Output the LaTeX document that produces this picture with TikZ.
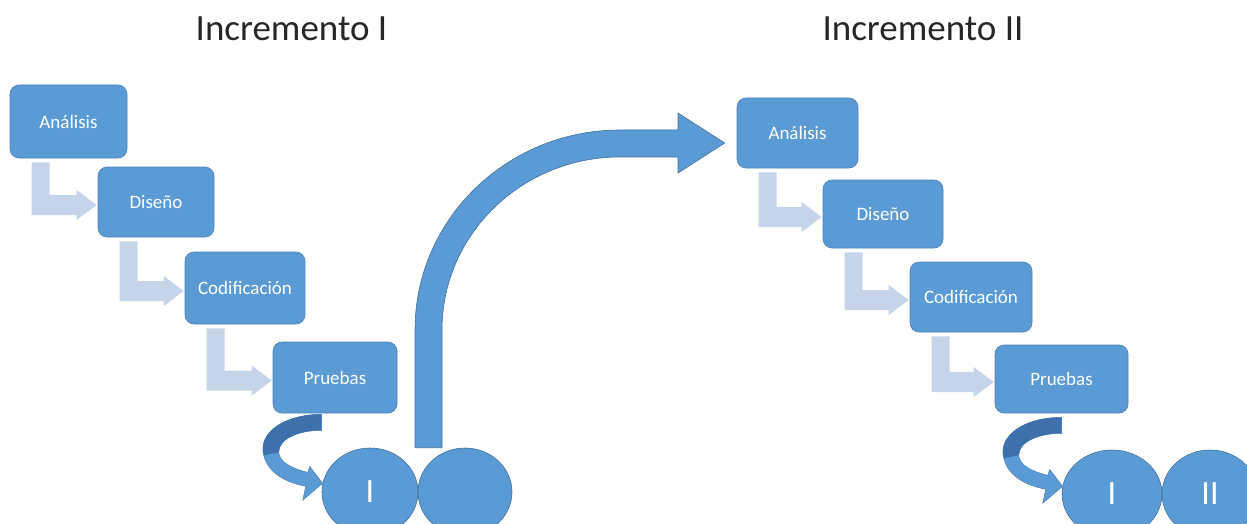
\documentclass[tikz,border=0pt]{standalone}
\usepackage{fontspec}
\setmainfont{Carlito}
\usetikzlibrary{calc,shapes.geometric}

\definecolor{boxblue}{RGB}{91,155,213}
\definecolor{edgeblue}{RGB}{65,113,156}
\definecolor{shadeblue}{RGB}{62,112,172}
\definecolor{paleblue}{RGB}{198,212,234}
\definecolor{titlegray}{RGB}{38,38,38}

\tikzset{
  phase/.style={draw=edgeblue!60!boxblue, line width=0.6pt, fill=boxblue,
    rounded corners=9pt, text=white, inner sep=0pt,
    font=\fontsize{19}{22}\selectfont},
  release/.style={ellipse, draw=edgeblue, line width=0.6pt, fill=boxblue,
    text=white, inner sep=0pt, font=\fontsize{34}{38}\selectfont},
  title/.style={anchor=base, text=titlegray, font=\fontsize{37}{42}\selectfont},
  % curved arrow leading from the last phase down to the first release
  turnarrow/.pic={
    \filldraw[fill=boxblue, draw=edgeblue!70!boxblue, line width=0.4pt]
      (0,0) .. controls (-37,0) and (-64,18) .. (-58,41)
      .. controls (-54,58) and (-37,68) .. (-16,72)
      -- (-19,86) -- (1,69) -- (-12,52) -- (-14,58)
      .. controls (-30,54) and (-42,48) .. (-43,38)
      .. controls (-43,24) and (-22,16) .. (0,16) -- cycle;
    \fill[shadeblue]
      (0,0) .. controls (-37,0) and (-64,18) .. (-58,41)
      -- (-43,38) .. controls (-43,24) and (-22,16) .. (0,16) -- cycle;
  }
}

% pale L-shaped step arrow from one phase box to the next
\newcommand\stepjoin[2]{%
  \fill[paleblue]
    ($(#1.south west)+(22,4)$) -- ($(#1.south west)+(40,4)$)
    -- ($(#1.south west |- #2.west)+(40,-7)$)
    -- ($(#2.west)+(-21,-7)$) -- ($(#2.west)+(-21,-12)$)
    -- ($(#2.west)+(-1,3)$)
    -- ($(#2.west)+(-21,18)$) -- ($(#2.west)+(-21,13)$)
    -- ($(#1.south west |- #2.west)+(22,13)$) -- cycle;}

\begin{document}
\begin{tikzpicture}[x=1pt,y=-1pt]
  \useasboundingbox (0,0) rectangle (1247,524);
  \clip (0,0) rectangle (1247,524);

  % titles
  \node[title] (t1) at (291.5,41) {Incremento I};
  \node[title] (t2) at (923,41) {Incremento II};

  % first increment
  \node[phase, minimum width=117pt, minimum height=73pt] (a1) at (68.5,121.5) {Análisis};
  \node[phase, minimum width=116pt, minimum height=70pt] (d1) at (156,202) {Diseño};
  \node[phase, minimum width=120pt, minimum height=72pt] (c1) at (245,288) {Codificación};
  \node[phase, minimum width=124pt, minimum height=71pt] (p1) at (335,377.5) {Pruebas};
  \stepjoin{a1}{d1}
  \stepjoin{d1}{c1}
  \stepjoin{c1}{p1}

  \node[release, minimum width=96pt, minimum height=88pt] (r1a) at (370,492) {I};
  \node[release, minimum width=94pt, minimum height=88pt] (r1b) at (465,492) {};
  \pic at ($(p1.south -| r1a.west)+(0,1)$) {turnarrow};

  % second increment
  \node[phase, minimum width=121pt, minimum height=70pt] (a2) at (797.5,133) {Análisis};
  \node[phase, minimum width=120pt, minimum height=68pt] (d2) at (883,214) {Diseño};
  \node[phase, minimum width=122pt, minimum height=70pt] (c2) at (971,297) {Codificación};
  \node[phase, minimum width=133pt, minimum height=68pt] (p2) at (1061.5,379) {Pruebas};
  \stepjoin{a2}{d2}
  \stepjoin{d2}{c2}
  \stepjoin{c2}{p2}

  \node[release, minimum width=100pt, minimum height=88pt] (r2a) at (1112,494) {I};
  \node[release, minimum width=96pt, minimum height=88pt] (r2b) at (1210,494) {II};
  \pic at ($(p2.south -| r2a.west)+(0,4)$) {turnarrow};

  % large arrow carrying the first increment over to the second
  \coordinate (foot) at ($(r1b.north)+(-36.5,0)$);
  \coordinate (tip) at ($(a2.west)+(-12,10)$);
  \filldraw[fill=boxblue, draw=edgeblue, line width=0.6pt]
    ($(foot)+(-13.5,0)$) -- (415,330)
    .. controls (415,219.5) and (506.8,130) .. (620,130)
    -- (678,130) -- (678,113) -- (tip) -- (678,173) -- (678,157) -- (620,157)
    .. controls (521.7,157) and (442,234.5) .. (442,330)
    -- ($(foot)+(13.5,0)$) -- cycle;
\end{tikzpicture}
\end{document}
